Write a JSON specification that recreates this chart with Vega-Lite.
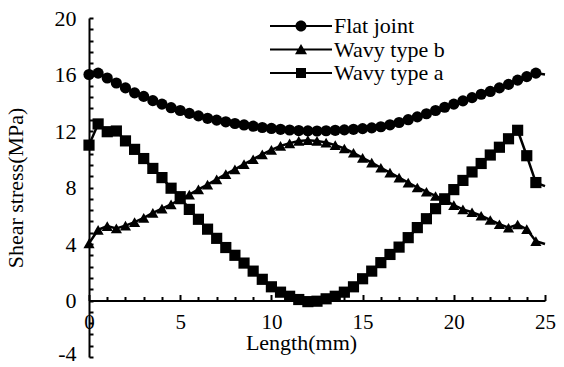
{
  "$schema": "https://vega.github.io/schema/vega-lite/v6.json",
  "width": 456,
  "height": 339,
  "autosize": {"type": "none"},
  "padding": {"left": 89, "top": 18, "right": 19, "bottom": 10},
  "background": "white",
  "config": {
    "view": {"stroke": null},
    "font": "Liberation Serif",
    "axis": {"grid": false, "labelFont": "Liberation Serif", "titleFont": "Liberation Serif", "labelColor": "black", "titleColor": "black", "labelFontSize": 22, "titleFontSize": 22, "titleFontWeight": "normal", "labelFlush": false, "labelOverlap": false},
    "legend": {"labelFont": "Liberation Serif", "labelFontSize": 22, "labelColor": "black"}
  },
  "data": {"values": [
    {"s":"Flat joint","x":0,"y":16.0},{"s":"Flat joint","x":0.5,"y":16.1},{"s":"Flat joint","x":1,"y":15.75},{"s":"Flat joint","x":1.5,"y":15.4},{"s":"Flat joint","x":2,"y":15.05},{"s":"Flat joint","x":2.5,"y":14.7},{"s":"Flat joint","x":3,"y":14.45},{"s":"Flat joint","x":3.5,"y":14.15},{"s":"Flat joint","x":4,"y":13.9},{"s":"Flat joint","x":4.5,"y":13.65},{"s":"Flat joint","x":5,"y":13.45},{"s":"Flat joint","x":5.5,"y":13.25},{"s":"Flat joint","x":6,"y":13.07},{"s":"Flat joint","x":6.5,"y":12.9},{"s":"Flat joint","x":7,"y":12.77},{"s":"Flat joint","x":7.5,"y":12.65},{"s":"Flat joint","x":8,"y":12.53},{"s":"Flat joint","x":8.5,"y":12.43},{"s":"Flat joint","x":9,"y":12.34},{"s":"Flat joint","x":9.5,"y":12.25},{"s":"Flat joint","x":10,"y":12.18},{"s":"Flat joint","x":10.5,"y":12.12},{"s":"Flat joint","x":11,"y":12.07},{"s":"Flat joint","x":11.5,"y":12.03},{"s":"Flat joint","x":12,"y":12.01},{"s":"Flat joint","x":12.5,"y":12.0},{"s":"Flat joint","x":13,"y":12.02},{"s":"Flat joint","x":13.5,"y":12.05},{"s":"Flat joint","x":14,"y":12.08},{"s":"Flat joint","x":14.5,"y":12.12},{"s":"Flat joint","x":15,"y":12.17},{"s":"Flat joint","x":15.5,"y":12.22},{"s":"Flat joint","x":16,"y":12.3},{"s":"Flat joint","x":16.5,"y":12.44},{"s":"Flat joint","x":17,"y":12.6},{"s":"Flat joint","x":17.5,"y":12.8},{"s":"Flat joint","x":18,"y":13.0},{"s":"Flat joint","x":18.5,"y":13.22},{"s":"Flat joint","x":19,"y":13.45},{"s":"Flat joint","x":19.5,"y":13.68},{"s":"Flat joint","x":20,"y":13.9},{"s":"Flat joint","x":20.5,"y":14.13},{"s":"Flat joint","x":21,"y":14.36},{"s":"Flat joint","x":21.5,"y":14.6},{"s":"Flat joint","x":22,"y":14.8},{"s":"Flat joint","x":22.5,"y":15.05},{"s":"Flat joint","x":23,"y":15.3},{"s":"Flat joint","x":23.5,"y":15.6},{"s":"Flat joint","x":24,"y":15.85},{"s":"Flat joint","x":24.5,"y":16.1},{"s":"Flat joint","x":25,"y":16.0},
    {"s":"Wavy type b","x":0,"y":4.05},{"s":"Wavy type b","x":0.5,"y":5.0},{"s":"Wavy type b","x":1,"y":5.27},{"s":"Wavy type b","x":1.5,"y":5.1},{"s":"Wavy type b","x":2,"y":5.3},{"s":"Wavy type b","x":2.5,"y":5.55},{"s":"Wavy type b","x":3,"y":5.85},{"s":"Wavy type b","x":3.5,"y":6.2},{"s":"Wavy type b","x":4,"y":6.5},{"s":"Wavy type b","x":4.5,"y":6.8},{"s":"Wavy type b","x":5,"y":7.15},{"s":"Wavy type b","x":5.5,"y":7.5},{"s":"Wavy type b","x":6,"y":7.87},{"s":"Wavy type b","x":6.5,"y":8.2},{"s":"Wavy type b","x":7,"y":8.58},{"s":"Wavy type b","x":7.5,"y":8.95},{"s":"Wavy type b","x":8,"y":9.28},{"s":"Wavy type b","x":8.5,"y":9.65},{"s":"Wavy type b","x":9,"y":10.0},{"s":"Wavy type b","x":9.5,"y":10.35},{"s":"Wavy type b","x":10,"y":10.66},{"s":"Wavy type b","x":10.5,"y":10.95},{"s":"Wavy type b","x":11,"y":11.13},{"s":"Wavy type b","x":11.5,"y":11.3},{"s":"Wavy type b","x":12,"y":11.35},{"s":"Wavy type b","x":12.5,"y":11.3},{"s":"Wavy type b","x":13,"y":11.18},{"s":"Wavy type b","x":13.5,"y":11.0},{"s":"Wavy type b","x":14,"y":10.76},{"s":"Wavy type b","x":14.5,"y":10.46},{"s":"Wavy type b","x":15,"y":10.1},{"s":"Wavy type b","x":15.5,"y":9.76},{"s":"Wavy type b","x":16,"y":9.4},{"s":"Wavy type b","x":16.5,"y":9.05},{"s":"Wavy type b","x":17,"y":8.7},{"s":"Wavy type b","x":17.5,"y":8.35},{"s":"Wavy type b","x":18,"y":8.0},{"s":"Wavy type b","x":18.5,"y":7.7},{"s":"Wavy type b","x":19,"y":7.4},{"s":"Wavy type b","x":19.5,"y":7.1},{"s":"Wavy type b","x":20,"y":6.75},{"s":"Wavy type b","x":20.5,"y":6.45},{"s":"Wavy type b","x":21,"y":6.25},{"s":"Wavy type b","x":21.5,"y":6.0},{"s":"Wavy type b","x":22,"y":5.7},{"s":"Wavy type b","x":22.5,"y":5.4},{"s":"Wavy type b","x":23,"y":5.15},{"s":"Wavy type b","x":23.5,"y":5.38},{"s":"Wavy type b","x":24,"y":5.05},{"s":"Wavy type b","x":24.5,"y":4.2},{"s":"Wavy type b","x":25,"y":4.0},
    {"s":"Wavy type a","x":0,"y":11.0},{"s":"Wavy type a","x":0.5,"y":12.5},{"s":"Wavy type a","x":1,"y":11.95},{"s":"Wavy type a","x":1.5,"y":12.0},{"s":"Wavy type a","x":2,"y":11.3},{"s":"Wavy type a","x":2.5,"y":10.7},{"s":"Wavy type a","x":3,"y":10.05},{"s":"Wavy type a","x":3.5,"y":9.35},{"s":"Wavy type a","x":4,"y":8.7},{"s":"Wavy type a","x":4.5,"y":7.95},{"s":"Wavy type a","x":5,"y":7.35},{"s":"Wavy type a","x":5.5,"y":6.45},{"s":"Wavy type a","x":6,"y":5.75},{"s":"Wavy type a","x":6.5,"y":5.05},{"s":"Wavy type a","x":7,"y":4.4},{"s":"Wavy type a","x":7.5,"y":3.75},{"s":"Wavy type a","x":8,"y":3.2},{"s":"Wavy type a","x":8.5,"y":2.65},{"s":"Wavy type a","x":9,"y":2.08},{"s":"Wavy type a","x":9.5,"y":1.5},{"s":"Wavy type a","x":10,"y":0.97},{"s":"Wavy type a","x":10.5,"y":0.59},{"s":"Wavy type a","x":11,"y":0.3},{"s":"Wavy type a","x":11.5,"y":0.07},{"s":"Wavy type a","x":12,"y":-0.08},{"s":"Wavy type a","x":12.5,"y":-0.05},{"s":"Wavy type a","x":13,"y":0.12},{"s":"Wavy type a","x":13.5,"y":0.3},{"s":"Wavy type a","x":14,"y":0.59},{"s":"Wavy type a","x":14.5,"y":0.97},{"s":"Wavy type a","x":15,"y":1.54},{"s":"Wavy type a","x":15.5,"y":2.08},{"s":"Wavy type a","x":16,"y":2.68},{"s":"Wavy type a","x":16.5,"y":3.26},{"s":"Wavy type a","x":17,"y":3.78},{"s":"Wavy type a","x":17.5,"y":4.45},{"s":"Wavy type a","x":18,"y":5.16},{"s":"Wavy type a","x":18.5,"y":5.79},{"s":"Wavy type a","x":19,"y":6.5},{"s":"Wavy type a","x":19.5,"y":7.2},{"s":"Wavy type a","x":20,"y":7.85},{"s":"Wavy type a","x":20.5,"y":8.5},{"s":"Wavy type a","x":21,"y":9.1},{"s":"Wavy type a","x":21.5,"y":9.7},{"s":"Wavy type a","x":22,"y":10.3},{"s":"Wavy type a","x":22.5,"y":10.85},{"s":"Wavy type a","x":23,"y":11.45},{"s":"Wavy type a","x":23.5,"y":12.05},{"s":"Wavy type a","x":24,"y":10.25},{"s":"Wavy type a","x":24.5,"y":8.35},{"s":"Wavy type a","x":25,"y":8.1}
  ]},
  "resolve": {"axis": {"x": "independent", "y": "independent"}, "scale": {"shape": "independent"}, "legend": {"shape": "independent"}},
  "layer": [
    {
      "mark": {"type": "line", "color": "black", "strokeWidth": 2.5},
      "encoding": {
        "x": {"field": "x", "type": "quantitative",
          "scale": {"domain": [0, 25], "nice": false, "zero": false},
          "axis": {"orient": "top", "offset": -282.5, "labels": false, "title": null,
            "domainColor": "black", "domainWidth": 2, "tickColor": "black", "tickWidth": 2,
            "values": [0,1,2,3,4,5,6,7,8,9,10,11,12,13,14,15,16,17,18,19,20,21,22,23,24,25],
            "tickSize": {"condition": {"test": "datum.value % 5 === 0", "value": 6}, "value": 4}}},
        "y": {"field": "y", "type": "quantitative",
          "scale": {"domain": [-4, 20], "nice": false, "zero": false},
          "axis": {"orient": "right", "offset": -456, "labels": false, "title": null,
            "domainColor": "black", "domainWidth": 2, "tickColor": "black", "tickWidth": 2, "tickSize": 4,
            "values": [-4,-3.2,-2.4,-1.6,-0.8,0,0.8,1.6,2.4,3.2,4,4.8,5.6,6.4,7.2,8,8.8,9.6,10.4,11.2,12,12.8,13.6,14.4,15.2,16,16.8,17.6,18.4,19.2,20]}},
        "detail": {"field": "s"}
      }
    },
    {
      "transform": [{"filter": "datum.x < 25"}],
      "mark": {"type": "point", "filled": true, "color": "black", "opacity": 1, "size": 125},
      "encoding": {
        "x": {"field": "x", "type": "quantitative",
          "scale": {"domain": [0, 25], "nice": false, "zero": false},
          "axis": {"orient": "bottom", "offset": -56.5, "domain": false, "ticks": false,
            "labelFont": "Liberation Serif", "titleFont": "Liberation Serif", "labelFontSize": 21,
            "values": [0,5,10,15,20,25], "labelPadding": 11, "title": "Length(mm)", "titleX": 212, "titleAlign": "center", "titlePadding": 0}},
        "y": {"field": "y", "type": "quantitative",
          "scale": {"domain": [-4, 20], "nice": false, "zero": false},
          "axis": {"orient": "left", "domain": false, "ticks": false,
            "labelFont": "Liberation Serif", "titleFont": "Liberation Serif",
            "values": [-4,0,4,8,12,16,20], "labelExpr": "'' + datum.value", "labelPadding": 13,
            "labelOffset": {"condition": {"test": "datum.value === -4", "value": -4}, "value": 0},
            "title": "Shear stress(MPa)", "titlePadding": 27}},
        "shape": {"field": "s", "type": "nominal",
          "scale": {"domain": ["Flat joint", "Wavy type b", "Wavy type a"], "range": ["circle", "triangle-up", "square"]},
          "legend": null}
      }
    },
    {
      "transform": [{"filter": "datum.x < -100"}],
      "mark": {"type": "point", "filled": true, "fill": "black", "stroke": "black", "strokeWidth": 1, "opacity": 1},
      "encoding": {
        "x": {"field": "x", "type": "quantitative", "scale": {"domain": [0, 25], "nice": false, "zero": false}, "axis": null},
        "y": {"field": "y", "type": "quantitative", "scale": {"domain": [-4, 20], "nice": false, "zero": false}, "axis": null},
        "shape": {"field": "s", "type": "nominal",
          "scale": {"domain": ["Flat joint", "Wavy type b", "Wavy type a"],
            "range": [
              "M-6.2,-0.2V0.2H-1.05V-0.2ZM1.05,-0.2V0.2H6.2V-0.2ZM-1.1,0A1.1,1.1,0,1,0,1.1,0A1.1,1.1,0,1,0,-1.1,0Z",
              "M-6.2,-0.2H-0.5V0.2H-6.2ZM0.5,-0.2H6.2V0.2H0.5ZM0,-1.1L1.2,0.95L-1.2,0.95Z",
              "M-6.2,-0.2H-0.95V0.2H-6.2ZM0.95,-0.2H6.2V0.2H0.95ZM-1,-1H1V1H-1Z"]},
          "legend": {"title": null, "orient": "none", "legendX": 201, "legendY": -3, "direction": "vertical",
            "padding": 0, "rowPadding": 1.5, "symbolSize": 100, "labelOffset": 22,
            "labelFont": "Liberation Serif", "labelFontSize": 22,
            "symbolFillColor": "black", "symbolStrokeColor": "black", "symbolStrokeWidth": 1, "symbolOpacity": 1}}
      }
    }
  ]
}
